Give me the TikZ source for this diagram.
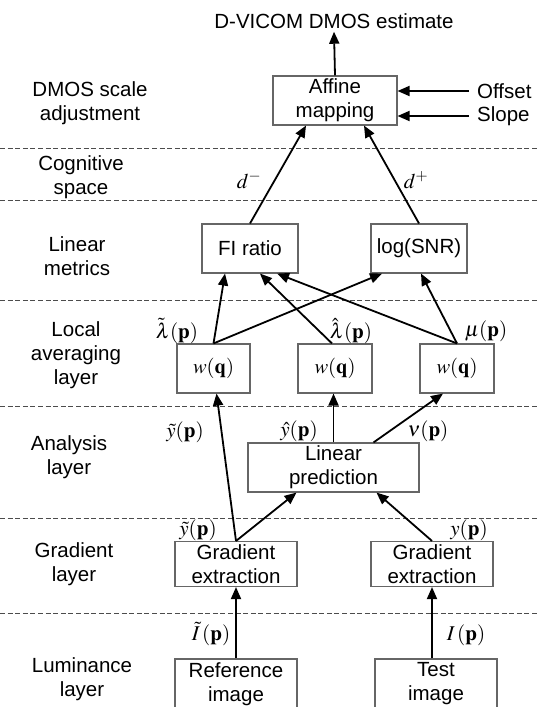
\documentclass[tikz,border=0pt]{standalone}
\usepackage{mathptmx}
\usepackage[no-math]{fontspec}
\setmainfont{Liberation Sans}
\usetikzlibrary{arrows.meta,calc}
\tikzset{
  blk/.style={draw=black!60, line width=1.1pt, fill=white, align=center, inner sep=0pt},
  arr/.style={line width=1.8pt, -{Triangle[length=12pt,width=10pt]}},
  sep/.style={draw=black!70, line width=0.9pt, dash pattern=on 5pt off 2.6pt},
  lbl/.style={align=center, inner sep=0pt},
  mlbl/.style={inner sep=0pt, font=\fontsize{21}{24}\selectfont},
}
\begin{document}
\begin{tikzpicture}[x=1pt,y=-1pt, font=\fontsize{20.5}{24}\selectfont]
\useasboundingbox (0,0) rectangle (539,707);
% separators
\foreach \yy/\nm in {148/s1,200/s2,300/s3,406/s4,518/s5,613/s6}{
  \coordinate (\nm a) at (0,\yy); \coordinate (\nm b) at (539,\yy);
  \draw[sep] (\nm a) -- (\nm b);
}
% left labels
\node[lbl] (l1) at (90,103) {DMOS scale\\adjustment};
\node[lbl] (l2) at (81,177) {Cognitive\\space};
\node[lbl] (l3) at (77,256) {Linear\\metrics};
\node[lbl] (l4) at (76,355) {Local\\averaging\\layer};
\node[lbl] (l5) at (69,457) {Analysis\\layer};
\node[lbl] (l6) at (74,564) {Gradient\\layer};
\node[lbl] (l7) at (82,679) {Luminance\\layer};
% title and inputs
\node[lbl] (title) at (334,21) {D-VICOM DMOS estimate};
\node[lbl, anchor=west] (offset) at (477,91) {Offset};
\node[lbl, anchor=west] (slope) at (477,116) {Slope};
\coordinate (offs) at (469,91);
\coordinate (slps) at (469,116);
% boxes
\node[blk, minimum width=124pt, minimum height=49pt] (aff) at (335,100.5) {Affine\\mapping};
\node[blk, minimum width=96pt, minimum height=49pt] (fi) at (250,248.5) {FI ratio};
\node[blk, minimum width=96pt, minimum height=49pt] (lg) at (419,248.5) {log(SNR)};
\node[blk, minimum width=73pt, minimum height=49pt] (w1) at (213.5,368.5) {$w(\mathbf{q})$};
\node[blk, minimum width=74pt, minimum height=49pt] (w2) at (335,368.5) {$w(\mathbf{q})$};
\node[blk, minimum width=74pt, minimum height=49pt] (w3) at (457,368.5) {$w(\mathbf{q})$};
\node[blk, minimum width=171pt, minimum height=49pt] (lp) at (333.5,467.5) {Linear\\prediction};
\node[blk, minimum width=122pt, minimum height=45pt] (ge1) at (236,564) {Gradient\\extraction};
\node[blk, minimum width=122pt, minimum height=45pt] (ge2) at (432,564) {Gradient\\extraction};
\node[blk, minimum width=122pt, minimum height=50pt] (ref) at (236,684) {Reference\\image};
\node[blk, minimum width=122pt, minimum height=50pt] (tst) at (436,684) {Test\\image};
% math labels
\node[mlbl] (dm) at (249,180) {$d^{-}$};
\node[mlbl] (dp) at (416,180) {$d^{+}$};
\node[mlbl] (lt) at (177,331) {$\tilde{\lambda}(\mathbf{p})$};
\node[mlbl] (lh) at (351,331) {$\hat{\lambda}(\mathbf{p})$};
\node[mlbl] (mu) at (486,331) {$\mu(\mathbf{p})$};
\node[mlbl] (yt1) at (185,432) {$\tilde{y}(\mathbf{p})$};
\node[mlbl] (yh) at (299,431) {$\hat{y}(\mathbf{p})$};
\node[mlbl] (nu) at (428,431) {$\nu(\mathbf{p})$};
\node[mlbl] (yt2) at (198,530) {$\tilde{y}(\mathbf{p})$};
\node[mlbl] (yy) at (469,530) {$y(\mathbf{p})$};
\node[mlbl] (It) at (211,634) {$\tilde{I}\,(\mathbf{p})$};
\node[mlbl] (II) at (466,635) {$I\,(\mathbf{p})$};
% connectors
\draw[arr] (aff.north) -- ([yshift=-3pt]title.south);
\draw[arr] (offs) -- (offs -| aff.east);
\draw[arr] (slps) -- (slps -| aff.east);
\draw[arr] (fi.north) -- ([xshift=-29pt]aff.south);
\draw[arr] (lg.north) -- ([xshift=29pt]aff.south);
\draw[arr] (w1.north) -- ([xshift=-25pt]fi.south);
\draw[arr] (w1.north) -- ([xshift=-37pt]lg.south);
\draw[arr] ([xshift=-3pt]w2.north) -- ([xshift=10pt]fi.south);
\draw[arr] (w3.north) -- ([xshift=27pt]fi.south);
\draw[arr] (w3.north) -- ([xshift=2pt]lg.south);
\draw[arr] (lp.north) -- (lp.north |- w2.south);
\draw[arr] ([xshift=40pt]lp.north) -- ([xshift=-14pt]w3.south);
\draw[arr] (ge1.north) -- ([xshift=3pt]w1.south);
\draw[arr] (ge1.north) -- ([xshift=-37pt]lp.south);
\draw[arr] (ge2.north) -- ([xshift=43pt]lp.south);
\draw[arr] (ref.north) -- (ge1.south);
\draw[arr] (ge2.south |- tst.north) -- (ge2.south);
\end{tikzpicture}
\end{document}
